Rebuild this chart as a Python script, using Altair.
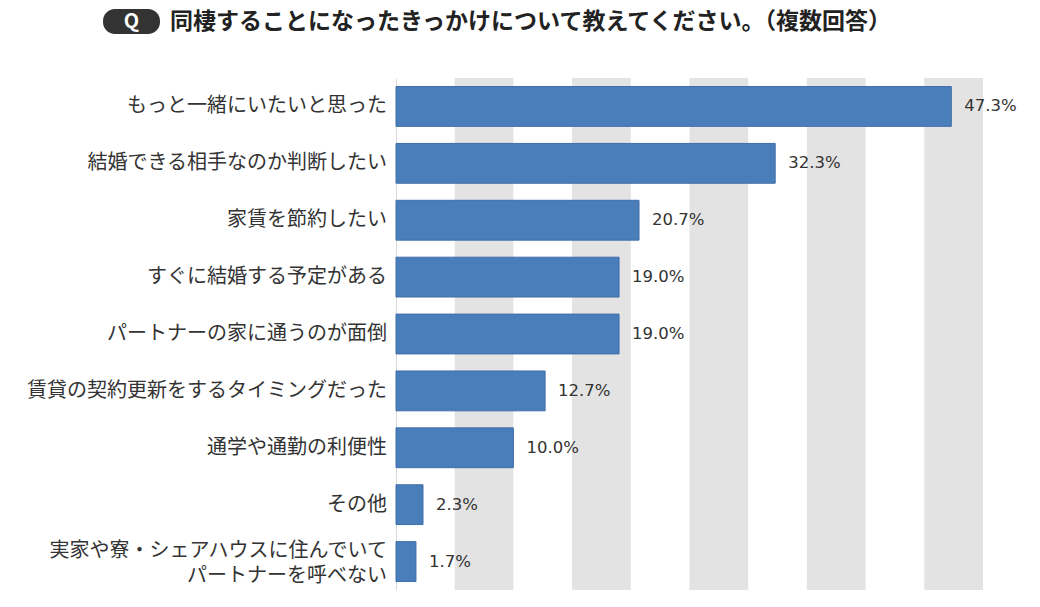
import altair as alt
import pandas as pd

categories = [
    "もっと一緒にいたいと思った",
    "結婚できる相手なのか判断したい",
    "家賃を節約したい",
    "すぐに結婚する予定がある",
    "パートナーの家に通うのが面倒",
    "賃貸の契約更新をするタイミングだった",
    "通学や通勤の利便性",
    "その他",
    "実家や寮・シェアハウスに住んでいて|パートナーを呼べない",
]
values = [47.3, 32.3, 20.7, 19.0, 19.0, 12.7, 10.0, 2.3, 1.7]
band_starts = [5, 15, 25, 35, 45]
band_ends = [10, 20, 30, 40, 50]
title_text = "同棲することになったきっかけについて教えてください。（複数回答）"

FONT = "Noto Sans CJK JP"

df = pd.DataFrame({"cat": categories, "val": values})
df["label"] = [f"{v:.1f}%" for v in values]
df["lines"] = [c.count("|") + 1 for c in categories]
bands = pd.DataFrame({"s": band_starts, "e": band_ends})

xscale = alt.Scale(domain=[0, 50], nice=False, zero=True)
yscale = alt.Scale(paddingInner=0.3, paddingOuter=0.15)

band_layer = alt.Chart(bands).mark_rect(color="#e3e3e3").encode(
    x=alt.X("s:Q", scale=xscale, axis=None),
    x2="e:Q",
)

yenc = alt.Y(
    "cat:N",
    sort=categories,
    scale=yscale,
    axis=alt.Axis(
        title=None,
        ticks=False,
        labels=False,
        domain=True,
        domainColor="#d9d9d9",
        domainWidth=1,
        grid=False,
    ),
)

bars = alt.Chart(df).mark_bar(color="#4a7ebb", stroke="#3f6ea8", strokeWidth=1).encode(
    x=alt.X("val:Q", scale=xscale, axis=None),
    y=yenc,
)

texts = alt.Chart(df).mark_text(
    align="left", baseline="middle", dx=13, font="DejaVu Sans", fontSize=16.5, color="#333333"
).encode(
    x=alt.X("val:Q", scale=xscale, axis=None),
    y=alt.Y("cat:N", sort=categories),
    text="label:N",
)

cat_single = alt.Chart(df).transform_filter("datum.lines == 1").mark_text(
    align="right", baseline="middle", font=FONT, fontSize=20, color="#333333"
).encode(
    x=alt.value(-9),
    y=alt.Y("cat:N", sort=categories),
    text="cat:N",
)

cat_multi = alt.Chart(df).transform_filter("datum.lines == 2").mark_text(
    align="right", baseline="middle", font=FONT, fontSize=20, color="#333333",
    lineBreak="|", lineHeight=25, dy=-11
).encode(
    x=alt.value(-9),
    y=alt.Y("cat:N", sort=categories),
    text="cat:N",
)

badge = alt.Chart(pd.DataFrame({"t": ["Q"]})).mark_rect(
    color="#333333", cornerRadius=12
).encode(
    x=alt.value(-293), x2=alt.value(-236), y=alt.value(-69), y2=alt.value(-44)
)
badge_text = alt.Chart(pd.DataFrame({"t": ["Q"]})).mark_text(
    font=FONT, fontSize=20, fontWeight="bold", color="white", align="center", baseline="middle"
).encode(x=alt.value(-264.5), y=alt.value(-56.5), text="t:N")

title = alt.Chart(pd.DataFrame({"t": [title_text]})).mark_text(
    font=FONT, fontSize=23, fontWeight="bold", color="#222222", align="left", baseline="middle"
).encode(x=alt.value(-226), y=alt.value(-56), text="t:N")

chart = alt.layer(
    band_layer, bars, texts, cat_single, cat_multi, badge, badge_text, title
).properties(
    width=587,
    height=512,
    autosize=alt.AutoSizeParams(type="none"),
    padding={"left": 388, "top": 70, "right": 40, "bottom": 10},
).configure_view(stroke=None)

chart.save("out.html", embed_options={"renderer": "svg", "actions": False})
